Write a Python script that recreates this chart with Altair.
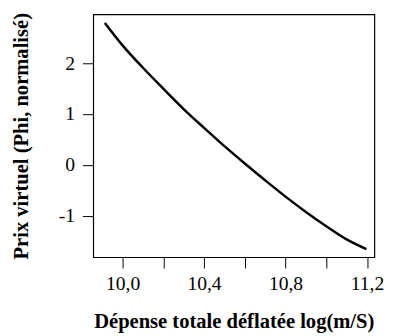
import altair as alt
import pandas as pd

# Data
depense = [9.913, 10.0, 10.1, 10.2, 10.3, 10.4, 10.5, 10.6, 10.7, 10.8, 10.9, 11.0, 11.1, 11.197]
prix = [2.79, 2.35, 1.91, 1.50, 1.10, 0.73, 0.37, 0.03, -0.30, -0.62, -0.92, -1.20, -1.46, -1.65]
x_ticks = [10.0, 10.2, 10.4, 10.6, 10.8, 11.0, 11.2]
y_ticks = [-1, 0, 1, 2]

df = pd.DataFrame({"x": depense, "y": prix})

FONT = "Liberation Serif"

chart = alt.Chart(df).mark_line(color="black", strokeWidth=2.5, interpolate="monotone").encode(
    x=alt.X("x:Q",
            scale=alt.Scale(domain=[9.856, 11.236], nice=False, zero=False),
            axis=alt.Axis(values=x_ticks, domain=False, grid=False, tickSize=11, tickColor="black",
                          tickWidth=1, labelPadding=6, labelFontSize=20, labelFont=FONT,
                          labelColor="black", labelFlush=False,
                          labelExpr="(abs((datum.value*10) % 4) < 0.01 || abs((datum.value*10) % 4 - 4) < 0.01) ? replace(format(datum.value, '.1f'), '.', ',') : ''",
                          title="Dépense totale déflatée log(m/S)", titleFont=FONT, titleFontSize=21,
                          titleFontWeight="bold", titleColor="black", titlePadding=18)),
    y=alt.Y("y:Q",
            scale=alt.Scale(domain=[-1.81, 2.96], nice=False, zero=False),
            axis=alt.Axis(values=y_ticks, domain=False, grid=False, tickSize=11, tickColor="black",
                          tickWidth=1, labelPadding=8, labelFontSize=20, labelFont=FONT,
                          labelColor="black", labelFlush=False,
                          labelExpr="datum.value < 0 ? '-' + abs(datum.value) : '' + datum.value",
                          title="Prix virtuel (Phi, normalisé)", titleFont=FONT, titleFontSize=21,
                          titleFontWeight="bold", titleColor="black", titleX=-67,
                          titleBaseline="alphabetic")),
).properties(
    width=287, height=248,
    autosize=alt.AutoSizeParams(type="none"),
    padding={"left": 87, "top": 3, "right": 16, "bottom": 77},
).configure_view(stroke="black", strokeWidth=1.2)

chart.save("out.html", embed_options={"renderer": "svg", "actions": False})
